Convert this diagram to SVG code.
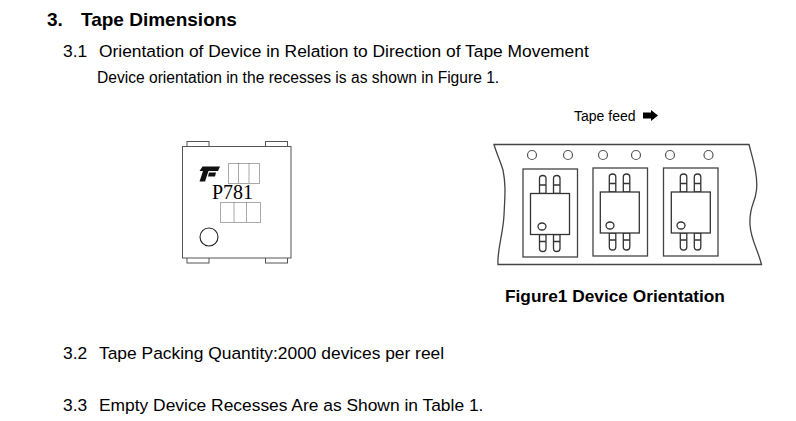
<svg xmlns="http://www.w3.org/2000/svg" width="796" height="421" viewBox="0 0 796 421">
<style>
text{font-family:"Liberation Sans",Arial,sans-serif;fill:#000}
.h{font-size:19px;font-weight:bold}
.f{font-size:17.300px;font-weight:bold}
.b{font-size:17.400px}
.p{fill:#fff;stroke:#555;stroke-width:1}
.d{fill:none;stroke:#555;stroke-width:1;stroke-dasharray:1 1}
.t{fill:none;stroke:#444;stroke-width:1.300}
.hole{fill:#fff;stroke:#555;stroke-width:1.200}
.pin{fill:#fff;stroke:#333;stroke-width:1.300}
</style>
<defs>
<g id="dev">
<path class="pin" d="M-11,-18V-33Q-11,-36 -7.700,-36Q-4.500,-36 -4.500,-33V-18ZM3,-18V-33Q3,-36 6.300,-36Q9.500,-36 9.500,-33V-18Z"/>
<path class="pin" d="M-11,-26.500H-4.500M3,-26.500H9.500"/>
<path class="pin" d="M-11,23V37Q-11,40 -7.700,40Q-4.500,40 -4.500,37V23ZM3,23V37Q3,40 6.300,40Q9.500,40 9.500,37V23Z"/>
<path class="pin" d="M-11,30H-4.500M3,30H9.500"/>
<rect x="-20" y="-18" width="39" height="41" class="pin"/>
</g>
</defs>
<text class="h" x="47" y="26">3.</text>
<text class="h" x="81" y="26">Tape Dimensions</text>
<text class="b" x="63" y="57">3.1</text>
<text class="b" x="99" y="57">Orientation of Device in Relation to Direction of Tape Movement</text>
<text x="97" y="83" font-size="15.600">Device orientation in the recesses is as shown in Figure 1.</text>
<g id="package">
<rect class="p" x="187" y="141.500" width="22" height="6"/>
<rect class="p" x="265.500" y="141.500" width="22" height="6"/>
<rect class="p" x="187" y="257" width="22" height="6"/>
<rect class="p" x="265.500" y="257" width="22" height="6"/>
<rect class="p" x="182.500" y="146.500" width="108.500" height="111.500"/>
<path d="M202.500,166.500H220L218,171H208.500L205,181.500H199.500L203,171H199.500ZM209,172.500H216L215,176.500H208Z" fill="#111"/>
<rect class="d" x="228.500" y="163.500" width="31" height="20"/>
<path class="d" d="M238.500,163.500V183.500M249,163.500V183.500"/>
<rect class="d" x="220.500" y="202.500" width="40" height="20"/>
<path class="d" d="M234,202.500V222.500M246.500,202.500V222.500"/>
<text x="212" y="199" font-size="20" style="font-family:'Liberation Serif',serif">P781</text>
<circle cx="209" cy="237" r="9" fill="none" stroke="#222" stroke-width="1.100"/>
</g>
<g id="tape-label">
<text x="574" y="121" font-size="14">Tape feed</text>
<path d="M643,112.500H651V110L658,115.500L651,121V118.500H643Z" fill="#000"/>
</g>
<g id="tape">
<path class="t" d="M494,144.500H749C753,160 758,175 756.500,190C755,205 749,205 750,225C751,240 758,250 761.500,264.500H498C497,250 503,235 504,215C505,195 506,185 503,170C500,160 496,152 494,144.500Z"/>
<circle class="hole" cx="532" cy="155" r="4.500"/>
<circle class="hole" cx="568" cy="155" r="4.500"/>
<circle class="hole" cx="603" cy="155" r="4.500"/>
<circle class="hole" cx="636" cy="155" r="4.500"/>
<circle class="hole" cx="670" cy="155" r="4.500"/>
<circle class="hole" cx="708.500" cy="155" r="4.500"/>
</g>
<g id="recess1">
<rect class="t" x="523" y="169" width="54.500" height="88"/>
<use href="#dev" x="550.500" y="211.500"/>
<ellipse class="pin" cx="542" cy="226.500" rx="4" ry="3.500"/>
</g>
<g id="recess2">
<rect class="t" x="593" y="168" width="54.500" height="88"/>
<use href="#dev" x="620.300" y="210"/>
<ellipse class="pin" cx="610" cy="225.500" rx="4" ry="3.500"/>
</g>
<g id="recess3">
<rect class="t" x="663.500" y="168" width="54.500" height="88"/>
<use href="#dev" x="691.300" y="210"/>
<ellipse class="pin" cx="681" cy="225.500" rx="4" ry="3.500"/>
</g>
<text class="f" x="505" y="302">Figure1 Device Orientation</text>
<text class="b" x="63" y="359">3.2</text>
<text class="b" x="99" y="359">Tape Packing Quantity:2000 devices per reel</text>
<text class="b" x="63" y="411">3.3</text>
<text class="b" x="99" y="411">Empty Device Recesses Are as Shown in Table 1.</text>
</svg>
